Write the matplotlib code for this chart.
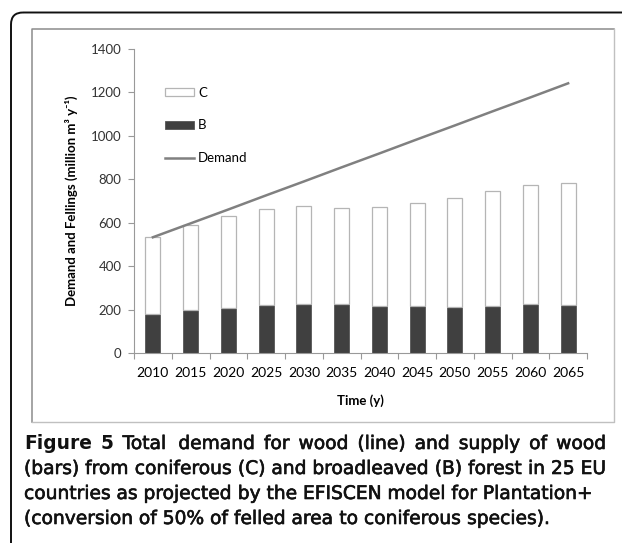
import numpy as np
import matplotlib.pyplot as plt
import matplotlib.patheffects as pe
from matplotlib.patches import FancyBboxPatch, Patch
from matplotlib.lines import Line2D
from matplotlib.font_manager import FontProperties, findfont, get_font

# donnees
years = ['2010', '2015', '2020', '2025', '2030', '2035', '2040',
         '2045', '2050', '2055', '2060', '2065']
broadleaved = [180, 197, 207, 220, 226, 224, 216, 216, 212, 216, 224, 220]
total = [533, 591, 629, 664, 675, 669, 672, 690, 712, 744, 773, 781]
demand = [533, 597, 661, 726, 790, 855, 919, 984, 1048, 1113, 1177, 1242]
coniferous = [t - b for t, b in zip(total, broadleaved)]

caption = ["Total demand for wood (line) and supply of wood",
           "(bars) from coniferous (C) and broadleaved (B) forest in 25 EU",
           "countries as projected by the EFISCEN model for Plantation+",
           "(conversion of 50% of felled area to coniferous species)."]

W, H = 622, 543
DPI = 100
CAP_FONT = 'DejaVu Sans'
fig = plt.figure(figsize=(W / DPI, H / DPI), dpi=DPI)

# fond : cadres en coordonnees pixels
bg = fig.add_axes([0, 0, 1, 1])
bg.set_xlim(0, W)
bg.set_ylim(H, 0)
bg.axis('off')
bg.add_patch(FancyBboxPatch((11, 12.5), 700, 600,
                            boxstyle="round,pad=0,rounding_size=12",
                            fc='none', ec='#111111', lw=1.4))
bg.plot([32, 32, 614], [422, 29, 29], color='#8c8c8c', lw=1.1)
bg.plot([32, 614, 614], [422, 422, 29], color='#c0c0c0', lw=1.0)

# graphique
ax = fig.add_axes([134 / W, 1 - 353 / H, 453 / W, 304 / H])
x = np.arange(len(years))
ax.bar(x, broadleaved, width=0.4, color='#404040', edgecolor='#555555', lw=0.6)
ax.bar(x, coniferous, width=0.4, bottom=broadleaved, color='white',
       edgecolor='#b5b5b5', lw=0.9)
ax.plot(x, demand, color='#808080', lw=1.8)

ax.set_xlim(-0.5, len(years) - 0.5)
ax.set_ylim(0, 1400)
ax.set_yticks(np.arange(0, 1401, 200))
ax.set_xticks(np.arange(-0.5, len(years), 1))
ax.set_xticklabels([])
ax.set_xticks(x, minor=True)
ax.set_xticklabels(years, minor=True)
ax.tick_params(axis='x', which='minor', length=0, pad=10)
ax.tick_params(axis='x', which='major', length=4, color='#999999')
ax.tick_params(axis='y', length=4, color='#999999', pad=5)
ax.tick_params(labelsize=9.5, labelcolor='#333333')
for lab in ax.get_xticklabels(minor=True) + ax.get_yticklabels():
    lab.set_family('Lato')
for s in ['top', 'right']:
    ax.spines[s].set_visible(False)
for s in ['left', 'bottom']:
    ax.spines[s].set_color('#999999')

ax.set_xlabel('Time (y)', family='Lato', weight='bold', fontsize=9.5,
              labelpad=11)
ax.set_ylabel('Demand and Fellings (million m³ y⁻¹)',
              family=['Lato', 'DejaVu Sans'], weight='bold', fontsize=9.5,
              labelpad=9)

handles = [Patch(fc='white', ec='#b5b5b5', lw=0.9),
           Patch(fc='#404040', ec='#555555', lw=0.6),
           Line2D([], [], color='#808080', lw=1.8)]
ax.legend(handles, ['C', 'B', 'Demand'], loc='upper left',
          bbox_to_anchor=(165 / W, 1 - 87 / H), bbox_transform=fig.transFigure,
          frameon=False, prop={'family': 'Lato', 'size': 9.5},
          handlelength=2.2, handleheight=0.55, handletextpad=0.3,
          labelspacing=1.55, borderpad=0, borderaxespad=0)


# legende de la figure, mot par mot
def advance(txt, wt, size):
    prop = FontProperties(family=CAP_FONT, weight=wt, size=size)
    font = get_font(findfont(prop))
    font.set_size(size, DPI)
    return sum(font.load_char(ord(c)).linearHoriAdvance / 65536 for c in txt)


# trait leger pour epaissir un peu le texte normal (aspect semi-gras)
semi = [pe.withStroke(linewidth=0.45, foreground='#111111')]


def draw_words(words, x0, y, size, right=None):
    # words : liste de (mot, graisse)
    widths = [advance(w, wt, size) for w, wt in words]
    gap = advance(' ', 'normal', size)
    if right is not None:
        gap = (right - x0 - sum(widths)) / (len(words) - 1)
    xc = x0
    for (w, wt), wd in zip(words, widths):
        t = bg.text(xc, y, w, family=CAP_FONT, weight=wt, fontsize=size,
                    va='baseline', ha='left', color='#111111')
        if wt == 'normal':
            t.set_path_effects(semi)
        xc += wd + gap


x_start, x_end = 24, 606
lines = [[('Figure', 'bold'), ('5', 'bold')] +
         [(w, 'normal') for w in caption[0].split(' ')]]
lines += [[(w, 'normal') for w in c.split(' ')] for c in caption[1:]]
# taille choisie pour que la ligne la plus longue tienne dans le cadre
longest = max(advance(' '.join(w for w, _ in ln), 'normal', 10) for ln in lines)
size = 10 * (x_end - x_start) / longest
for i, ln in enumerate(lines):
    draw_words(ln, x_start, 449 + 25 * i, size, x_end if i < 2 else None)

fig.savefig('out.png', dpi=DPI)
